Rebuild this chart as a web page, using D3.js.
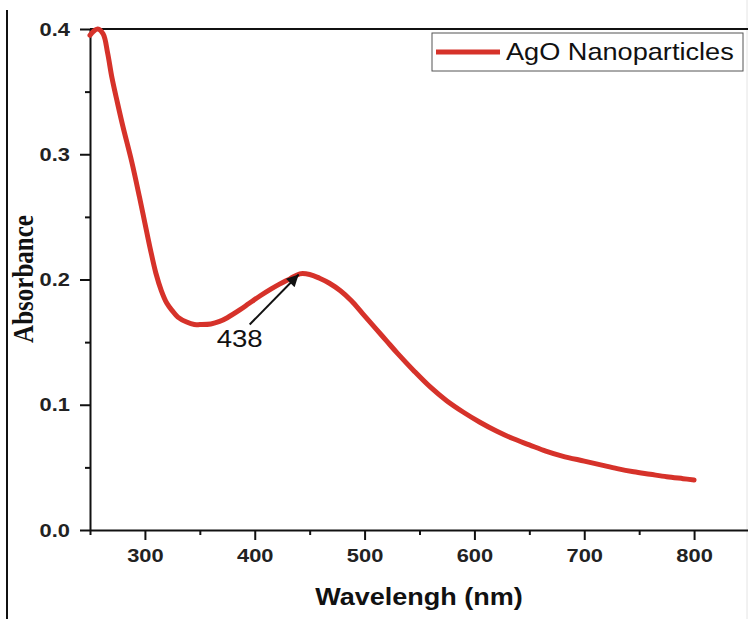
<!DOCTYPE html>
<html>
<head>
<meta charset="utf-8">
<script src="https://cdn.jsdelivr.net/npm/d3@7"></script>
<style>
  body { margin: 0; background: #fff; }
  svg { display: block; }
  .stretch { transform-box: fill-box; transform-origin: center; transform: scaleX(1.15); }
  .stretchR { transform-box: fill-box; transform-origin: right center; transform: scaleX(1.15); }
</style>
</head>
<body>
<div id="graf"></div>
<script>
// datos
wavelength = [250, 253, 257, 262, 266, 270, 275, 280, 288, 295, 300, 305, 310, 315, 320, 325, 330, 338, 345, 350,
              360, 368, 375, 386, 395, 405, 415, 423, 432, 441, 450, 459, 468, 478, 488, 498, 510, 520, 530, 545,
              560, 575, 590, 605, 620, 635, 650, 665, 680, 700, 715, 730, 745, 760, 775, 790, 800]
absorbance = [0.395, 0.398, 0.400, 0.396, 0.381, 0.361, 0.341, 0.322, 0.294, 0.266, 0.245, 0.224, 0.205, 0.191, 0.181, 0.175, 0.170, 0.166, 0.164, 0.164,
              0.1645, 0.1665, 0.1695, 0.1755, 0.181, 0.187, 0.1925, 0.1965, 0.2005, 0.2045, 0.204, 0.201, 0.197, 0.191, 0.183, 0.173, 0.161, 0.151, 0.141, 0.127,
              0.114, 0.103, 0.094, 0.086, 0.079, 0.073, 0.068, 0.063, 0.059, 0.055, 0.052, 0.049, 0.0465, 0.0445, 0.0425, 0.041, 0.040]
xTicks = [300, 400, 500, 600, 700, 800]
xMinor = [250, 350, 450, 550, 650, 750, 850]
yTicks = [0.0, 0.1, 0.2, 0.3, 0.4]
yMinor = [0.05, 0.15, 0.25, 0.35]
serie = 'AgO Nanoparticles'
pico = { nm: 440, abs: 0.204, label: '438' }

data = wavelength.map((w, i) => ({ w: w, a: absorbance[i] }))

ancho_total = 748
alto_total = 619
rojo = '#d6322a'
fuente = '"Liberation Sans", Arial, sans-serif'

svg = d3.select('#graf').append('svg')
        .attr('width', ancho_total)
        .attr('height', alto_total)

x = d3.scaleLinear().domain([250, 850]).range([90, 749])
y = d3.scaleLinear().domain([0, 0.4]).range([530, 29])

// marco izquierdo de la figura
svg.append('line')
   .attr('x1', 7).attr('x2', 7).attr('y1', 10).attr('y2', alto_total)
   .attr('stroke', '#111').attr('stroke-width', 2)
svg.append('line')
   .attr('x1', 747).attr('x2', 747).attr('y1', 0).attr('y2', alto_total)
   .attr('stroke', '#e4e4e4').attr('stroke-width', 1)

// linea superior
svg.append('line')
   .attr('x1', x(250)).attr('x2', x(850)).attr('y1', y(0.4)).attr('y2', y(0.4))
   .attr('stroke', '#111').attr('stroke-width', 2)

// Ejes
xAxis = svg.append('g')
           .attr('transform', `translate(0, ${ y(0) })`)
           .call(d3.axisBottom(x).tickValues(xTicks).tickFormat(d3.format('d'))
                   .tickSize(10).tickSizeOuter(0).tickPadding(9))
svg.append('g')
   .attr('transform', `translate(0, ${ y(0) })`)
   .call(d3.axisBottom(x).tickValues(xMinor).tickFormat('').tickSize(5).tickSizeOuter(0))
   .select('.domain').remove()

yAxis = svg.append('g')
           .attr('transform', `translate(${ x(250) }, 0)`)
           .call(d3.axisLeft(y).tickValues(yTicks).tickFormat(d3.format('.1f'))
                   .tickSize(10).tickSizeOuter(0).tickPadding(10))
svg.append('g')
   .attr('transform', `translate(${ x(250) }, 0)`)
   .call(d3.axisLeft(y).tickValues(yMinor).tickFormat('').tickSize(5).tickSizeOuter(0))
   .select('.domain').remove()

svg.selectAll('.domain').attr('stroke', '#111').attr('stroke-width', 2)
svg.selectAll('.tick line').attr('stroke', '#111').attr('stroke-width', 2)
svg.selectAll('.tick text')
   .attr('font-family', fuente)
   .attr('font-weight', 'bold')
   .attr('font-size', 19)
   .attr('fill', '#222')
xAxis.selectAll('.tick text').attr('class', 'stretch')
yAxis.selectAll('.tick text').attr('class', 'stretchR')

// Linea
lineaGen = d3.line().x(d => x(d.w)).y(d => y(d.a)).curve(d3.curveCatmullRom.alpha(0.5))
svg.append('path')
   .datum(data)
   .attr('fill', 'none')
   .attr('stroke', rojo)
   .attr('stroke-width', 5)
   .attr('stroke-linejoin', 'round')
   .attr('stroke-linecap', 'round')
   .attr('d', lineaGen)

// Titulos de ejes
svg.append('text')
   .attr('class', 'stretch')
   .attr('x', 419).attr('y', 605)
   .attr('text-anchor', 'middle')
   .attr('font-family', fuente)
   .attr('font-weight', 'bold')
   .attr('font-size', 23.5)
   .attr('fill', '#111')
   .text('Wavelengh (nm)')

svg.append('text')
   .attr('transform', 'translate(33, 279) scale(1.15, 1) rotate(-90)')
   .attr('text-anchor', 'middle')
   .attr('font-family', '"Liberation Serif", "Times New Roman", serif')
   .attr('font-weight', 'bold')
   .attr('font-size', 25)
   .attr('fill', '#111')
   .text('Absorbance')

// Anotacion del pico
svg.append('defs').append('marker')
   .attr('id', 'flecha')
   .attr('viewBox', '0 0 10 10')
   .attr('refX', 10).attr('refY', 5)
   .attr('markerWidth', 7).attr('markerHeight', 6)
   .attr('markerUnits', 'strokeWidth')
   .attr('orient', 'auto')
   .append('path')
   .attr('d', 'M0,0 L10,5 L0,10 Z')
   .attr('fill', '#111')

px = x(pico.nm)
py = y(pico.abs)
svg.append('line')
   .attr('x1', px - 49).attr('y1', py + 50)
   .attr('x2', px).attr('y2', py)
   .attr('stroke', '#111').attr('stroke-width', 2)
   .attr('marker-end', 'url(#flecha)')
svg.append('text')
   .attr('class', 'stretch')
   .attr('x', px - 59).attr('y', py + 73)
   .attr('text-anchor', 'middle')
   .attr('font-family', fuente)
   .attr('font-size', 24)
   .attr('fill', '#111')
   .text(pico.label)

// Leyenda
leyenda = svg.append('g')
leyenda.append('rect')
       .attr('x', 432).attr('y', 33)
       .attr('width', 311).attr('height', 38)
       .attr('fill', '#fff')
       .attr('stroke', '#555').attr('stroke-width', 1)
leyenda.append('line')
       .attr('x1', 436).attr('x2', 500).attr('y1', 52).attr('y2', 52)
       .attr('stroke', rojo).attr('stroke-width', 5)
leyenda.append('text')
       .attr('transform', 'translate(506, 60) scale(1.15, 1)')
       .attr('font-family', fuente)
       .attr('font-size', 23.6)
       .attr('fill', '#111')
       .text(serie)
</script>
</body>
</html>
